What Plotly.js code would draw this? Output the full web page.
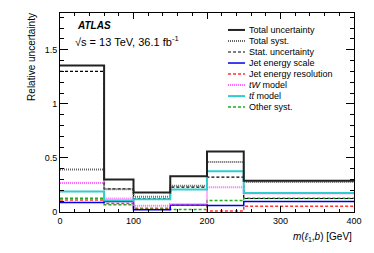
<!DOCTYPE html>
<html>
<head>
<meta charset="utf-8">
<script src="https://cdn.plot.ly/plotly-3.0.1.min.js"></script>
<style>html,body{margin:0;padding:0;background:#fff;}#chart{width:374px;height:253px;}</style>
</head>
<body>
<div id="chart"></div>
<script>
// Bin edges in m(l1,b) [GeV]
const binEdges = [0, 60, 100, 150, 200, 250, 400];
// Relative uncertainties per bin
const totalUnc   = [1.355, 0.300, 0.180, 0.330, 0.560, 0.290];
const totalSyst  = [0.392, 0.210, 0.142, 0.242, 0.463, 0.278];
const statUnc    = [1.300, 0.214, 0.124, 0.230, 0.322, 0.125];
const jesUnc     = [0.088, 0.097, 0.020, 0.064, 0.061, 0.098];
const jerUnc     = [0.112, 0.078, 0.026, 0.068, 0.010, 0.054];
const tWModel    = [0.269, 0.124, 0.058, 0.074, 0.228, 0.170];
const ttModel    = [0.189, 0.106, 0.118, 0.207, 0.377, 0.175];
const otherSyst  = [0.127, 0.066, 0.035, 0.022, 0.106, 0.127];

const legendLabels = [
  "Total uncertainty", "Total syst.", "Stat. uncertainty", "Jet energy scale",
  "Jet energy resolution", "<i>tW</i> model", "<i>tt̄</i> model", "Other syst."
];
const xTickVals = [0, 100, 200, 300, 400];
const yTickVals = [0, 0.5, 1, 1.5];
const yTickText = ["0", "0.5", "1", "1.5"];

const styles = [
  {color: "#222222", width: 2,   dash: "solid"},
  {color: "#666666", width: 2,   dash: "1px,1px"},
  {color: "#000000", width: 1.2, dash: "3px,2px"},
  {color: "#0000ee", width: 1.5, dash: "solid"},
  {color: "#ff3333", width: 1.5, dash: "3px,2px"},
  {color: "#ff66ff", width: 2,   dash: "1px,1px"},
  {color: "#33cccc", width: 2,   dash: "solid"},
  {color: "#22aa22", width: 1.5, dash: "3px,2px"}
];
const seriesList = [totalUnc, totalSyst, statUnc, jesUnc, jerUnc, tWModel, ttModel, otherSyst];

function stepTrace(vals, idx) {
  return {
    type: "scatter", mode: "lines",
    x: binEdges,
    y: vals.concat([vals[vals.length - 1]]),
    line: {shape: "hv", color: styles[idx].color, width: styles[idx].width, dash: styles[idx].dash},
    name: legendLabels[idx],
    showlegend: false,
    hoverinfo: "skip"
  };
}

// draw order: lower ones first
const drawOrder = [7, 4, 3, 5, 2, 1, 6, 0];
const traces = drawOrder.map(i => stepTrace(seriesList[i], i));

// Plot area geometry (pixels) for placing decorations in paper coords
const W = 374, H = 253, L = 60, R = 20, T = 13, B = 40.5;
const pw = W - L - R, ph = H - T - B;
const px = X => (X - L) / pw;
const py = Y => (H - B - Y) / ph;

const font = "Liberation Sans, Arial, Helvetica, sans-serif";
const shapes = [];
const annotations = [];
legendLabels.forEach((lab, i) => {
  const yc = 30 + i * 11.05;
  shapes.push({type: "line", xref: "paper", yref: "paper",
    x0: px(228), x1: px(245), y0: py(yc), y1: py(yc),
    line: {color: styles[i].color, width: styles[i].width, dash: styles[i].dash}});
  annotations.push({xref: "paper", yref: "paper", x: px(247), y: py(yc),
    xanchor: "left", yanchor: "middle", showarrow: false, text: lab,
    font: {family: font, size: 9, color: "#000"}});
});
annotations.push({xref: "paper", yref: "paper", x: px(75), y: py(26),
  xanchor: "left", yanchor: "middle", showarrow: false,
  text: "<b><i>ATLAS</i></b>", font: {family: font, size: 10, color: "#000"}});
annotations.push({xref: "paper", yref: "paper", x: px(73), y: py(41),
  xanchor: "left", yanchor: "middle", showarrow: false,
  text: "√s = 13 TeV, 36.1 fb<sup>-1</sup>", font: {family: font, size: 11, color: "#000"}});
annotations.push({xref: "paper", yref: "paper", x: 1, y: py(238),
  xanchor: "right", yanchor: "middle", showarrow: false,
  text: "<i>m</i>(<i>ℓ</i><sub>1</sub>,<i>b</i>) [GeV]", font: {family: font, size: 10, color: "#000"}});
annotations.push({xref: "paper", yref: "paper", x: px(32), y: py(57),
  xanchor: "center", yanchor: "middle", showarrow: false, textangle: -90,
  text: "Relative uncertainty", font: {family: font, size: 10, color: "#000"}});

const layout = {
  width: W, height: H,
  margin: {l: L, r: R, t: T, b: B, pad: 0},
  paper_bgcolor: "#fff", plot_bgcolor: "#fff",
  showlegend: false,
  font: {family: font, size: 9, color: "#000"},
  xaxis: {
    range: [0, 400], tickvals: xTickVals, ticktext: xTickVals.map(String),
    ticks: "inside", ticklen: 6, tickwidth: 1, tickcolor: "#000",
    minor: {ticks: "inside", ticklen: 3, dtick: 20, tickcolor: "#000", showgrid: false},
    showline: true, linecolor: "#000", linewidth: 1, mirror: "allticks",
    showgrid: false, zeroline: false, tickfont: {family: font, size: 9, color: "#000"}
  },
  yaxis: {
    range: [0, 1.84], tickvals: yTickVals, ticktext: yTickText,
    ticks: "inside", ticklen: 8, tickwidth: 1, tickcolor: "#000",
    minor: {ticks: "inside", ticklen: 4, dtick: 0.1, tickcolor: "#000", showgrid: false},
    showline: true, linecolor: "#000", linewidth: 1, mirror: "allticks",
    showgrid: false, zeroline: false, tickfont: {family: font, size: 9, color: "#000"}
  },
  shapes: shapes,
  annotations: annotations
};

Plotly.newPlot("chart", traces, layout, {displayModeBar: false, staticPlot: true});
</script>
</body>
</html>
